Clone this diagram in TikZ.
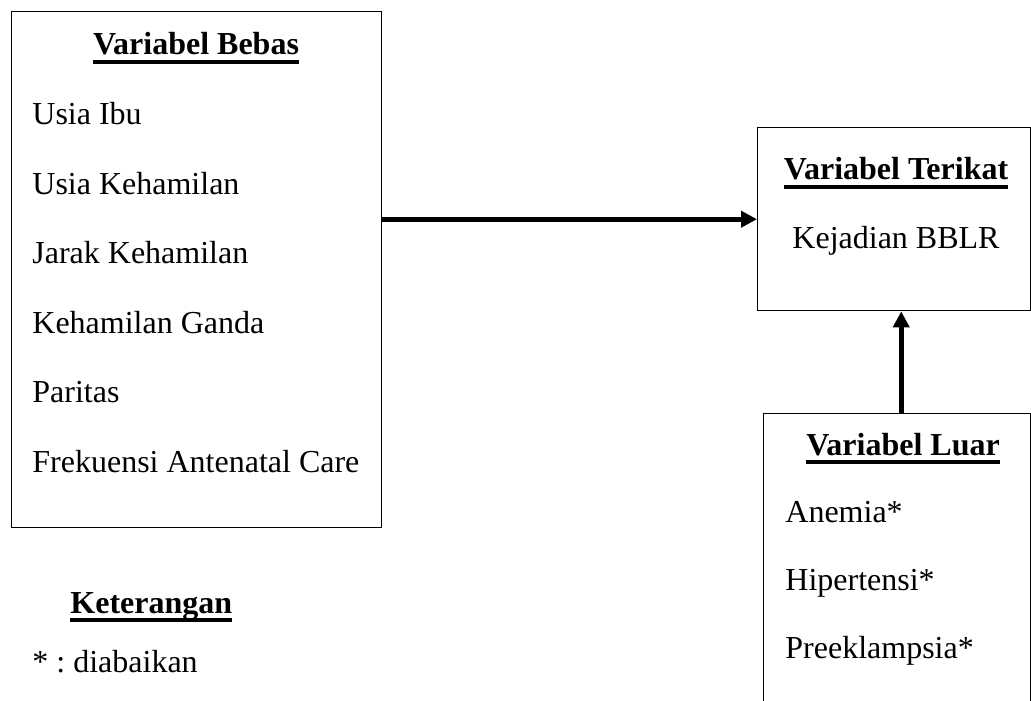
\documentclass[tikz,border=0pt]{standalone}
\usepackage{fontspec}
\setmainfont{Liberation Serif}
\usepackage{tikz}
\usetikzlibrary{arrows.meta, positioning, calc}
\frenchspacing
\newcommand{\headtext}[1]{\setbox0=\hbox{\bfseries #1}\copy0\llap{\rule[-4.3pt]{\wd0}{1.8pt}}}
\tikzset{
  var box/.style={draw, line width=0.7pt, anchor=north west, inner sep=0pt},
  head text/.style={anchor=base, inner sep=0pt, font=\fontsize{16}{19}\selectfont},
  item text/.style={anchor=base west, inner sep=0pt, font=\fontsize{16}{19}\selectfont},
  link edge/.style={-{Triangle[length=8pt, width=8pt]}, line width=2.6pt},
}

\begin{document}
\begin{tikzpicture}[x=0.5pt, y=-0.5pt]
  \useasboundingbox (0,0) rectangle (1031,700);
  \node[var box, minimum width=185pt, minimum height=258pt] (bebas) at (11,11) {};
  \node[var box, minimum width=136.5pt, minimum height=91.5pt] (terikat) at (757,127) {};
  \node[var box, minimum width=133.5pt, minimum height=160pt] (luar) at (763,413) {};

  \node[head text] (bebas title) at (196,55) {\headtext{Variabel Bebas}};
  \node[item text] (usia ibu) at (32,125) {Usia Ibu};
  \node[item text] (usia hamil) at (32,194) {Usia Kehamilan};
  \node[item text] (jarak hamil) at (32,263) {Jarak Kehamilan};
  \node[item text] (hamil ganda) at (32,333) {Kehamilan Ganda};
  \node[item text] (paritas) at (32,402) {Paritas};
  \node[item text] (anc) at (32,472) {Frekuensi Antenatal Care};

  \node[head text] (terikat title) at (896,180) {\headtext{Variabel Terikat}};
  \node[head text] (bblr) at (896,248) {Kejadian BBLR};

  \node[head text] (luar title) at (903,455) {\headtext{Variabel Luar}};
  \node[item text] (anemia) at (785,522) {Anemia*};
  \node[item text] (hipertensi) at (785,590) {Hipertensi*};
  \node[item text] (preeklampsia) at (785,658) {Preeklampsia*};

  \node[item text] (ket title) at (70,613) {\headtext{Keterangan}};
  \node[item text] (ket note) at (32,672) {* : diabaikan};

  \draw[link edge] (bebas.east |- terikat.west) -- (terikat.west);
  \draw[link edge] ([xshift=2pt]luar.north) -- ([xshift=2pt]terikat.south -| luar.north);
\end{tikzpicture}
\end{document}
